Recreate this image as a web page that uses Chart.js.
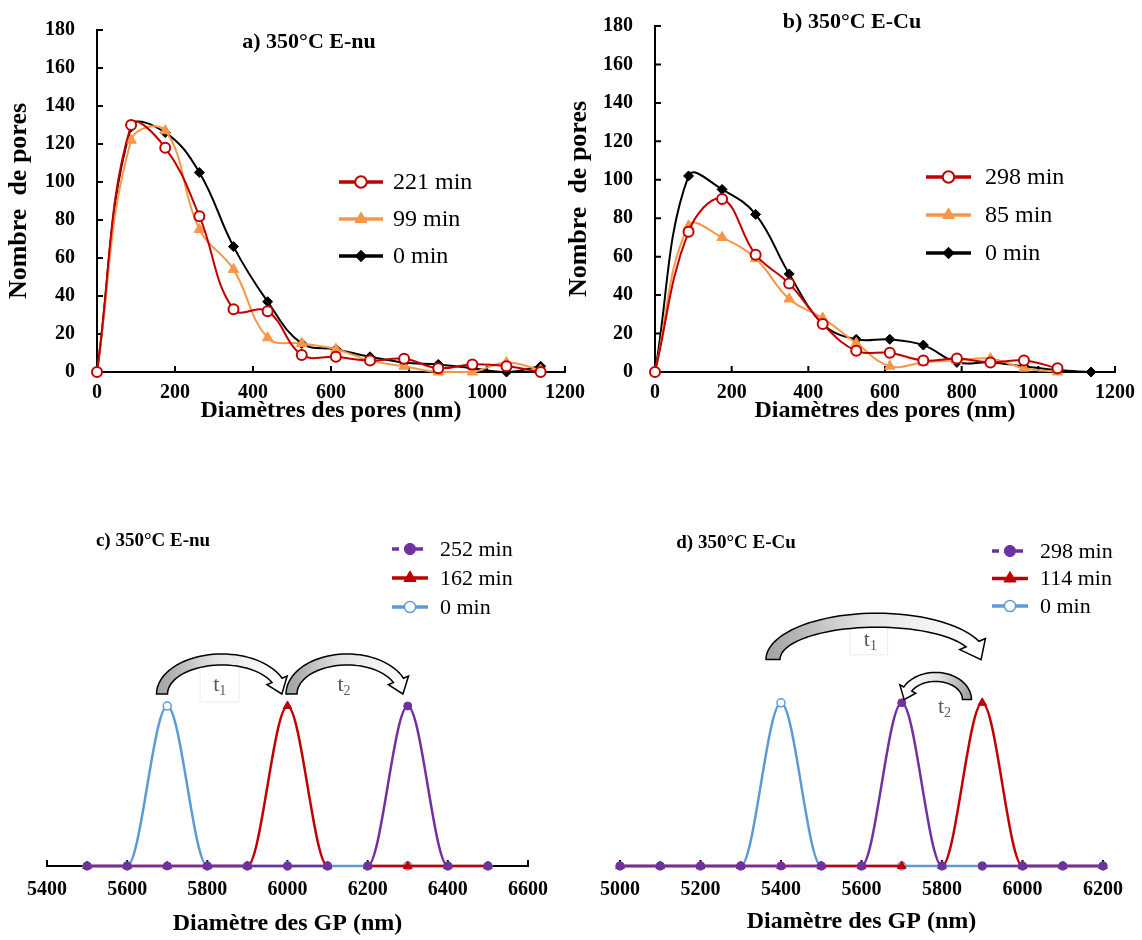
<!DOCTYPE html>
<html>
<head>
<meta charset="utf-8">
<script src="https://cdn.jsdelivr.net/npm/chart.js@4.4.1/dist/chart.umd.min.js"></script>
<style>
  body { margin: 0; background: #fff; width: 1142px; height: 940px; position: relative; overflow: hidden; }
  canvas { position: absolute; }
</style>
</head>
<body>
<canvas id="chartA" width="600" height="432" style="left:0;top:0"></canvas>
<canvas id="chartB" width="582" height="432" style="left:560px;top:0"></canvas>
<canvas id="chartC" width="600" height="440" style="left:0;top:500px"></canvas>
<canvas id="chartD" width="582" height="440" style="left:560px;top:500px"></canvas>
<script>
// ---- data ----
const diamPores = [0, 87.5, 175, 262.5, 350, 437.5, 525, 612.5, 700, 787.5, 875, 962.5, 1050, 1137.5];

const nuLabels = ['221 min', '99 min', '0 min'];
const nu221 = [0, 130, 118, 82, 33, 32, 9, 8, 6, 7, 2, 4, 3, 0];
const nu99  = [0, 122, 127, 75, 54, 18, 15, 12, 6, 3, 0, 0, 5, 1];
const nu0   = [0, 129, 126, 105, 66, 37, 15, 12, 8, 5, 4, 2, 0, 3];

const cuLabels = ['298 min', '85 min', '0 min'];
const cu298 = [0, 73, 90, 61, 46, 25, 11, 10, 6, 7, 5, 6, 2];
const cu85  = [0, 76, 70, 59, 38, 28, 15, 3, 5, 6, 7, 2, 0];
const cu0   = [0, 102, 95, 82, 51, 25, 17, 17, 14, 5, 5, 3, 1, 0];

const gpNu = [5500, 5600, 5700, 5800, 5900, 6000, 6100, 6200, 6300, 6400, 6500];
const gpNuLabels = ['252 min', '162 min', '0 min'];
const gpNu252 = [0, 0, 0, 0, 0, 0, 0, 0, 100, 0, 0];
const gpNu162 = [0, 0, 0, 0, 0, 100, 0, 0, 0, 0, 0];
const gpNu0   = [0, 0, 100, 0, 0, 0, 0, 0, 0, 0, 0];

const gpCu = [5000, 5100, 5200, 5300, 5400, 5500, 5600, 5700, 5800, 5900, 6000, 6100, 6200];
const gpCuLabels = ['298 min', '114 min', '0 min'];
const gpCu298 = [0, 0, 0, 0, 0, 0, 0, 102, 0, 0, 0, 0, 0];
const gpCu114 = [0, 0, 0, 0, 0, 0, 0, 0, 0, 102, 0, 0, 0];
const gpCu0   = [0, 0, 0, 0, 102, 0, 0, 0, 0, 0, 0, 0, 0];

const SERIF = "'Liberation Serif', 'Times New Roman', serif";
Chart.defaults.font.family = SERIF;
Chart.defaults.color = '#000';

function toPoints(xs, ys) {
  return ys.map((v, i) => ({ x: xs[i], y: v }));
}

// marker styles
const redCircle = { borderColor: '#C00000', pointStyle: 'circle', pointRadius: 5, pointBackgroundColor: '#fff', pointBorderColor: '#C00000', pointBorderWidth: 2 };
const orangeTri = { borderColor: '#F79646', pointStyle: 'triangle', pointRadius: 6, pointBackgroundColor: '#F79646', pointBorderColor: '#F79646', pointBorderWidth: 1 };
const blackDiam = { borderColor: '#000', pointStyle: 'rectRot', pointRadius: 5, pointBackgroundColor: '#000', pointBorderColor: '#000', pointBorderWidth: 1 };
const purpleDot = { borderColor: '#7030A0', pointStyle: 'circle', pointRadius: 4, pointBackgroundColor: '#7030A0', pointBorderColor: '#7030A0', pointBorderWidth: 1, legendDash: [7, 5] };
const redTri    = { borderColor: '#C00000', pointStyle: 'triangle', pointRadius: 5, pointBackgroundColor: '#C00000', pointBorderColor: '#C00000', pointBorderWidth: 1 };
const blueRing  = { borderColor: '#5B9BD5', pointStyle: 'circle', pointRadius: 4, pointBackgroundColor: '#fff', pointBorderColor: '#5B9BD5', pointBorderWidth: 1.5 };

// small tick marks pointing into the plot
const innerTicks = {
  id: 'innerTicks',
  beforeDatasetsDraw(chart, args, opts) {
    const ctx = chart.ctx;
    const xs = chart.scales.x, ys = chart.scales.y;
    ctx.save();
    ctx.strokeStyle = '#000';
    ctx.lineWidth = 2;
    ctx.beginPath();
    xs.ticks.forEach(t => {
      const px = xs.getPixelForValue(t.value);
      ctx.moveTo(px, xs.top);
      ctx.lineTo(px, xs.top - opts.len);
    });
    if (ys.options.display) {
      ys.ticks.forEach(t => {
        const py = ys.getPixelForValue(t.value);
        ctx.moveTo(ys.right, py);
        ctx.lineTo(ys.right + opts.len, py);
      });
    }
    ctx.stroke();
    ctx.restore();
  }
};

function drawMarker(ctx, style, x, y, r, fill, stroke, bw) {
  ctx.beginPath();
  if (style === 'triangle') {
    ctx.moveTo(x, y - r);
    ctx.lineTo(x + r * 0.866, y + r * 0.5);
    ctx.lineTo(x - r * 0.866, y + r * 0.5);
    ctx.closePath();
  } else if (style === 'rectRot') {
    ctx.moveTo(x, y - r);
    ctx.lineTo(x + r, y);
    ctx.lineTo(x, y + r);
    ctx.lineTo(x - r, y);
    ctx.closePath();
  } else {
    ctx.arc(x, y, r, 0, Math.PI * 2);
  }
  ctx.fillStyle = fill;
  ctx.fill();
  if (bw) {
    ctx.lineWidth = bw;
    ctx.strokeStyle = stroke;
    ctx.stroke();
  }
}

// curved block arrow: tail at xs, tip at xe, both sitting on yb
function drawArrow(ctx, xs, xe, yb, ytop, w, hl) {
  const dir = xe > xs ? 1 : -1;
  const cx = (xs + xe) / 2, rx = Math.abs(xe - xs) / 2;
  const ry = yb - ytop - w / 2;
  const th = Math.PI - hl / ry;
  const P = (t, r) => [cx - dir * (rx + r) * Math.cos(t), yb - (ry + r) * Math.sin(t)];
  const N = 40;
  ctx.beginPath();
  for (let i = 0; i <= N; i++) {
    const p = P(th * i / N, w / 2);
    i === 0 ? ctx.moveTo(p[0], p[1]) : ctx.lineTo(p[0], p[1]);
  }
  let p = P(th, w);
  ctx.lineTo(p[0], p[1]);
  p = P(Math.PI, 0);
  ctx.lineTo(p[0], p[1]);
  p = P(th, -w);
  ctx.lineTo(p[0], p[1]);
  for (let i = N; i >= 0; i--) {
    p = P(th * i / N, -w / 2);
    ctx.lineTo(p[0], p[1]);
  }
  ctx.closePath();
  const g = ctx.createLinearGradient(xs, 0, xe, 0);
  g.addColorStop(0, '#a6a6a6');
  g.addColorStop(0.45, '#e4e4e4');
  g.addColorStop(1, '#ffffff');
  ctx.fillStyle = g;
  ctx.fill();
  ctx.lineWidth = 1.5;
  ctx.strokeStyle = '#000';
  ctx.stroke();
}

function drawLegend(chart, lg) {
  const ctx = chart.ctx;
  chart.data.datasets.forEach((ds, i) => {
    const yy = lg.y + i * lg.dy;
    ctx.strokeStyle = ds.borderColor;
    ctx.lineWidth = lg.lineWidth;
    ctx.setLineDash(ds.legendDash || []);
    ctx.beginPath();
    ctx.moveTo(lg.x, yy);
    ctx.lineTo(lg.x + lg.len, yy);
    ctx.stroke();
    ctx.setLineDash([]);
    drawMarker(ctx, ds.pointStyle, lg.x + lg.len / 2, yy, ds.pointRadius * lg.markScale,
      ds.pointBackgroundColor, ds.pointBorderColor, ds.pointBorderWidth);
    ctx.fillStyle = '#000';
    ctx.font = lg.font;
    ctx.textAlign = 'left';
    ctx.textBaseline = 'middle';
    ctx.fillText(ds.label, lg.x + lg.len + lg.gap, yy + 1);
  });
}

const decor = {
  id: 'decor',
  afterDraw(chart, args, opts) {
    const ctx = chart.ctx;
    const xs = chart.scales.x, ys = chart.scales.y;
    ctx.save();
    if (opts.title) {
      ctx.font = opts.title.font;
      ctx.fillStyle = '#000';
      ctx.textAlign = 'center';
      ctx.textBaseline = 'middle';
      ctx.fillText(opts.title.text, opts.title.x, opts.title.y);
    }
    (opts.boxes || []).forEach(b => {
      const x1 = xs.getPixelForValue(b.x1), x2 = xs.getPixelForValue(b.x2);
      const y1 = ys.getPixelForValue(b.y1), y2 = ys.getPixelForValue(b.y2);
      ctx.strokeStyle = '#ececec';
      ctx.lineWidth = 1;
      ctx.strokeRect(x1, y1, x2 - x1, y2 - y1);
    });
    (opts.arrows || []).forEach(a => {
      drawArrow(ctx, xs.getPixelForValue(a.from), xs.getPixelForValue(a.to),
        ys.getPixelForValue(a.base), ys.getPixelForValue(a.top), a.width, a.head);
    });
    (opts.labels || []).forEach(l => {
      const px = xs.getPixelForValue(l.x), py = ys.getPixelForValue(l.y);
      ctx.fillStyle = '#595959';
      ctx.textBaseline = 'middle';
      ctx.textAlign = 'left';
      ctx.font = '22px ' + SERIF;
      const w = ctx.measureText('t').width;
      ctx.fillText('t', px - w, py);
      ctx.font = '14px ' + SERIF;
      ctx.fillText(l.sub, px, py + 6);
    });
    if (opts.legend) drawLegend(chart, opts.legend);
    ctx.restore();
  }
};

function axisFont(size) {
  return { size: size, weight: 'bold', family: SERIF };
}

// plain numbers, no thousands separator
function plainTick(v) {
  return String(v);
}

// baseline stretches where another series shows on top in the original
function hideRanges(ranges) {
  return {
    borderColor: ctx => {
      const a = ctx.p0.parsed.x, b = ctx.p1.parsed.x;
      return ranges.some(r => a >= r[0] && b <= r[1]) ? 'rgba(0,0,0,0)' : undefined;
    }
  };
}

function poreChart(id, labels, series, xs, cfg) {
  const styles = [redCircle, orangeTri, blackDiam];
  new Chart(document.getElementById(id), {
    type: 'line',
    data: {
      datasets: series.map((s, i) => Object.assign({
        label: labels[i],
        data: toPoints(xs, s),
        borderWidth: 2,
        tension: 0.4,
        clip: 10,
        fill: false
      }, styles[i]))
    },
    options: {
      responsive: false,
      animation: false,
      layout: { padding: cfg.padding },
      scales: {
        x: {
          type: 'linear', min: 0, max: 1200,
          afterFit: s => { s.height = 60; },
          ticks: { stepSize: 200, padding: 1, color: '#000', font: axisFont(20), callback: plainTick },
          grid: { display: false },
          border: { display: true, color: '#000', width: 2 },
          title: { display: true, text: 'Diamètres des pores (nm)', color: '#000', font: axisFont(24), padding: { top: 0, bottom: 7 } }
        },
        y: {
          min: 0, max: 180,
          afterFit: s => { s.width = cfg.yWidth; },
          ticks: { stepSize: 20, padding: 14, color: '#000', font: axisFont(20), callback: plainTick },
          grid: { display: false },
          border: { display: true, color: '#000', width: 2 },
          title: { display: true, text: 'Nombre  de pores', color: '#000', font: axisFont(26), padding: { top: 4, bottom: 0 } }
        }
      },
      plugins: {
        legend: { display: false },
        tooltip: { enabled: false },
        innerTicks: { len: 6 },
        decor: {
          title: cfg.title,
          legend: cfg.legend
        }
      }
    },
    plugins: [innerTicks, decor]
  });
}

function gpChart(id, labels, series, xs, cfg) {
  const styles = [purpleDot, redTri, blueRing];
  new Chart(document.getElementById(id), {
    type: 'line',
    data: {
      datasets: series.map((s, i) => Object.assign({
        label: labels[i],
        data: toPoints(xs, s),
        borderWidth: 2.5,
        cubicInterpolationMode: 'monotone',
        clip: 10,
        fill: false,
        segment: hideRanges(cfg.hidden[i])
      }, styles[i]))
    },
    options: {
      responsive: false,
      animation: false,
      layout: { padding: cfg.padding },
      scales: {
        x: {
          type: 'linear', min: cfg.xMin, max: cfg.xMax,
          afterFit: s => { s.height = 74; },
          ticks: { stepSize: 200, padding: 4, color: '#000', font: axisFont(20), callback: plainTick },
          grid: { display: false },
          border: { display: true, color: '#000', width: 2 },
          title: { display: true, text: 'Diamètre des GP (nm)', color: '#000', font: axisFont(24), padding: { top: 0, bottom: cfg.titlePad } }
        },
        y: { display: false, min: 0, max: 200 }
      },
      plugins: {
        legend: { display: false },
        tooltip: { enabled: false },
        innerTicks: { len: 6 },
        decor: {
          title: cfg.title,
          legend: cfg.legend,
          arrows: cfg.arrows,
          labels: cfg.labels,
          boxes: cfg.boxes
        }
      }
    },
    plugins: [innerTicks, decor]
  });
}

poreChart('chartA', nuLabels, [nu221, nu99, nu0], diamPores, {
  padding: { top: 30, right: 35, left: 0, bottom: 0 },
  yWidth: 97,
  title: { text: 'a) 350°C E-nu', x: 309, y: 42, font: 'bold 22px ' + SERIF },
  legend: { x: 339, y: 182, dy: 37, len: 44, gap: 10, lineWidth: 3.5, markScale: 1.15, font: '24px ' + SERIF }
});

poreChart('chartB', cuLabels, [cu298, cu85, cu0], diamPores, {
  padding: { top: 23, right: 27, left: 0, bottom: 0 },
  yWidth: 95,
  title: { text: 'b) 350°C E-Cu', x: 292, y: 22, font: 'bold 22px ' + SERIF },
  legend: { x: 366, y: 177, dy: 38, len: 45, gap: 14, lineWidth: 3.5, markScale: 1.15, font: '24px ' + SERIF }
});

gpChart('chartC', gpNuLabels, [gpNu252, gpNu162, gpNu0], gpNu, {
  padding: { top: 46, right: 72, left: 47, bottom: 0 },
  xMin: 5400, xMax: 6600, titlePad: 2,
  hidden: [[[6100, 6200], [6400, 6500]], [[6100, 6200]], []],
  title: { text: 'c) 350°C E-nu', x: 153, y: 41, font: 'bold 19px ' + SERIF },
  legend: { x: 392, y: 49, dy: 29, len: 36, gap: 12, lineWidth: 3.5, markScale: 1.4, font: '22px ' + SERIF },
  arrows: [
    { from: 5687, to: 5986, base: 107.5, top: 132.5, width: 11, head: 14 },
    { from: 6010, to: 6288, base: 107.5, top: 132.5, width: 11, head: 14 }
  ],
  boxes: [{ x1: 5782, x2: 5879, y1: 125.6, y2: 102.5 }],
  labels: [{ x: 5830, y: 113, sub: '1' }, { x: 6140, y: 113, sub: '2' }]
});

gpChart('chartD', gpCuLabels, [gpCu298, gpCu114, gpCu0], gpCu, {
  padding: { top: 46, right: 39, left: 60, bottom: 0 },
  xMin: 5000, xMax: 6200, titlePad: 4,
  hidden: [[[5500, 5600], [5800, 5900]], [[5700, 5800]], []],
  title: { text: 'd) 350°C E-Cu', x: 176, y: 43, font: 'bold 19px ' + SERIF },
  legend: { x: 432, y: 51, dy: 27.5, len: 36, gap: 12, lineWidth: 3.5, markScale: 1.4, font: '22px ' + SERIF },
  arrows: [
    { from: 5380, to: 5897, base: 129, top: 158, width: 14, head: 16 },
    { from: 5862, to: 5706, base: 104, top: 121, width: 9, head: 11 }
  ],
  boxes: [{ x1: 5571, x2: 5665, y1: 150, y2: 132 }],
  labels: [{ x: 5621, y: 141, sub: '1' }, { x: 5805, y: 99, sub: '2' }]
});
</script>
</body>
</html>
